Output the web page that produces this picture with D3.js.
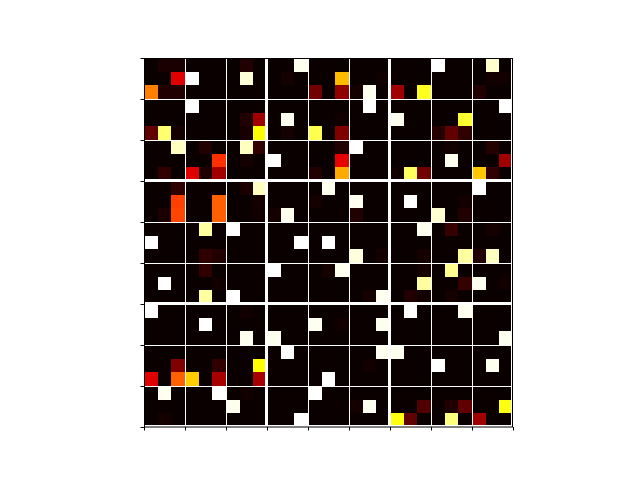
<!DOCTYPE html>
<html>
<head>
<meta charset="utf-8">
<script src="https://cdn.jsdelivr.net/npm/d3@7"></script>
<style>
  html, body { margin: 0; padding: 0; background: #fff; }
  svg { display: block; }
</style>
</head>
<body>
<div id="chart"></div>
<script>
// 27 x 27 grid (9x9 blocks of 3x3 cells), values in [0,1], "hot" colormap
const grid = [
  [0,0.023,0.023, 0,0,0, 0,0.032,0, 0,0,0.984, 0,0,0, 0,0,0, 0,0,0, 1,0,0, 0,0.95,0],
  [0,0,0.32, 1,0,0, 0,0.96,0, 0,0.015,0, 0,0,0.645, 0,0,0.008, 0,0,0, 0,0,0, 0,0.01,0.01],
  [0.556,0.032,0.032, 0,0,0, 0,0,0, 0,0,0, 0.152,0,0.199, 0.015,0.984,0, 0.223,0,0.778, 0,0,0, 0.032,0,0],
  [0,0,0, 1,0,0, 0,0,0, 0,0,0, 0,0,0, 0,1,0, 0,0,0, 0,0,0, 0,0,1],
  [0,0,0, 0,0,0, 0,0.032,0.223, 0,0.984,0, 0,0,0.008, 0,0,0, 0.984,0,0, 0,0,0.793, 0,0,0],
  [0.127,0.857,0.015, 0,0,0, 0,0.02,0.746, 0,0.015,0, 0.826,0,0.175, 0,0,0, 0,0,0, 0.039,0.127,0.056, 0,0,0],
  [0,0,0.937, 0,0.032,0, 0,0.937,0.056, 0,0,0, 0,0,0.032, 1,0,0, 0,0,0, 0,0.01,0, 0,0.039,0],
  [0,0,0, 0,0,0.437, 0,0.015,0, 1,0,0, 0,0,0.331, 0,0,0, 0,0,0, 0,0.984,0, 0,0,0.223],
  [0,0.056,0, 0.319,0.032,0.223, 0,0,0, 0,0,0, 0.032,0,0.619, 0,0,0, 0.01,0.841,0.152, 0,0,0, 0.664,0.056,0],
  [0,0,0.056, 0,0,0, 0,0.023,0.937, 0,0,0, 0,0.984,0, 0,0,0, 0,0,0, 0,0,0, 1,0,0],
  [0,0,0.46, 0,0,0.508, 0,0,0.015, 0,0,0, 0.015,0,0, 0.984,0,0, 0,1,0, 0,0,0.01, 0,0,0],
  [0,0.023,0.468, 0,0,0.508, 0,0,0.01, 0.015,0.984,0, 0,0,0, 0.032,0,0, 0,0,0, 0.953,0,0.032, 0,0,0],
  [0,0,0, 0,0.905,0, 1,0,0, 0,0,0, 0,0,0, 0,0,0, 0,0,0.984, 0,0.063,0, 0,0.015,0],
  [1,0,0, 0,0,0, 0,0,0, 0,0,1, 0,1,0, 0,0,0, 0,0,0, 0,0,0, 0,0,0],
  [0,0,0, 0,0.056,0.032, 0,0,0, 0,0,0, 0,0,0, 0.968,0,0.015, 0,0,0.015, 0,0,0.905, 0.032,0.937,0],
  [0,0,0, 0,0.056,0, 0,0,0, 1,0,0, 0,0.015,0.984, 0,0,0, 0,0,0.015, 0,0.889,0, 0,0,0],
  [0,1,0, 0,0,0.01, 0,0,0, 0,0,0, 0,0,0, 0,0,0, 0,0,0.905, 0,0,0.063, 0.984,0,0.01],
  [0,0,0, 0,0.905,0, 1,0,0, 0,0,0, 0,0,0, 0,0.015,0.984, 0,0.032,0.015, 0,0.015,0, 0,0,0],
  [1,0,0, 0,0,0, 0,0.01,0, 0,0,0, 0,0,0, 0,0,0, 0,1,0, 0,0,0.984, 0,0,0],
  [0,0,0, 0,1,0, 0,0,0, 0,0,0, 0.984,0,0.01, 0,0,0.984, 0,0,0, 0,0,0, 0,0,0],
  [0,0,0, 0,0,0, 0,0.984,0, 0.984,0,0, 0,0,0, 0,0,0, 0,0,0, 0,0,0, 0,0,0.984],
  [0,0,0, 0,0,0, 0,0,0, 0,1,0, 0,0,0, 0,0,0.984, 0.984,0,0, 0,0,0, 0,0,0],
  [0,0,0.175, 0,0,0.056, 0,0,0.746, 0,0,0, 0,0,0, 0,0.01,0, 0,0,0, 1,0,0, 0,0.984,0],
  [0.319,0,0.508, 0.67,0,0.235, 0,0,0.235, 0,0,0, 0,1,0, 0,0,0, 0,0,0, 0,0,0, 0,0,0],
  [0,0.984,0, 0,0,1, 0,0.01,0, 0,0,0, 1,0,0, 0,0,0, 0,0,0, 0,0,0, 0,0,0],
  [0,0,0, 0,0,0, 0.984,0,0, 0,0,0, 0,0,0, 0.015,0.984,0, 0,0,0.104, 0,0.032,0.127, 0,0,0.762],
  [0,0.015,0, 0,0,0, 0,0,0, 0,0,1, 0,0,0, 0,0,0, 0.762,0.127,0, 0,0.873,0, 0.223,0,0]
];
const blockBoundaries = [0, 3, 6, 9, 12, 15, 18, 21, 24, 27];
const majorBoundaries = [0, 9, 18, 27];

const W = 640, H = 480;
const x0 = 144, y0 = 58, size = 369;

const svg = d3.select("#chart").append("svg")
  .attr("width", W).attr("height", H)
  .style("background", "#fff");

const n = grid.length;
const x = d3.scaleLinear().domain([0, n]).range([x0, x0 + size]);
const y = d3.scaleLinear().domain([0, n]).range([y0, y0 + size]);

// matplotlib "hot" colormap (piecewise linear)
const color = d3.scaleLinear()
  .domain([0, 0.365079, 0.746032, 1])
  .range(["#0b0000", "#ff0000", "#ffff00", "#ffffff"])
  .clamp(true);

const cells = [];
grid.forEach((row, r) => row.forEach((v, c) => cells.push({ r, c, v })));

svg.append("clipPath").attr("id", "clip")
  .append("rect").attr("x", x0).attr("y", y0).attr("width", size).attr("height", size);

const plot = svg.append("g").attr("clip-path", "url(#clip)");

plot.selectAll("rect.cell").data(cells).join("rect")
  .attr("class", "cell")
  .attr("x", d => x(d.c))
  .attr("y", d => y(d.r))
  .attr("width", d => x(d.c + 1) - x(d.c) + 0.5)
  .attr("height", d => y(d.r + 1) - y(d.r) + 0.5)
  .attr("fill", d => color(d.v))
  .attr("shape-rendering", "crispEdges");

// snap grid lines to the pixel grid
const isMajor = d => majorBoundaries.includes(d);
const snap = (v, d) => isMajor(d) ? Math.round(v) - 0.5 : Math.floor(v) + 0.5;

plot.selectAll("line.v").data(blockBoundaries).join("line")
  .attr("class", "v")
  .attr("x1", d => snap(x(d), d)).attr("x2", d => snap(x(d), d))
  .attr("y1", y0).attr("y2", y0 + size)
  .attr("stroke", "#fff")
  .attr("stroke-width", d => isMajor(d) ? 3 : 1);
plot.selectAll("line.h").data(blockBoundaries).join("line")
  .attr("class", "h")
  .attr("y1", d => snap(y(d), d)).attr("y2", d => snap(y(d), d))
  .attr("x1", x0).attr("x2", x0 + size)
  .attr("stroke", "#fff")
  .attr("stroke-width", d => isMajor(d) ? 3 : 1);

// axes: ticks only, no labels
const xAxis = d3.axisBottom(x).tickValues(blockBoundaries).tickFormat("").tickSize(3.5).tickSizeOuter(0);
const yAxis = d3.axisLeft(y).tickValues(blockBoundaries).tickFormat("").tickSize(3.5).tickSizeOuter(0);

svg.append("g").attr("transform", `translate(0,${y0 + size})`).call(xAxis)
  .call(g => g.select(".domain").remove())
  .call(g => g.selectAll("line").attr("stroke", "#000").attr("stroke-width", 1));
svg.append("g").attr("transform", `translate(${x0},0)`).call(yAxis)
  .call(g => g.select(".domain").remove())
  .call(g => g.selectAll("line").attr("stroke", "#000").attr("stroke-width", 1));

// spines
svg.append("rect")
  .attr("x", x0 + 0.5).attr("y", y0 + 0.5).attr("width", size - 1).attr("height", size - 0.5)
  .attr("fill", "none").attr("stroke", "#000").attr("stroke-width", 1);
</script>
</body>
</html>
